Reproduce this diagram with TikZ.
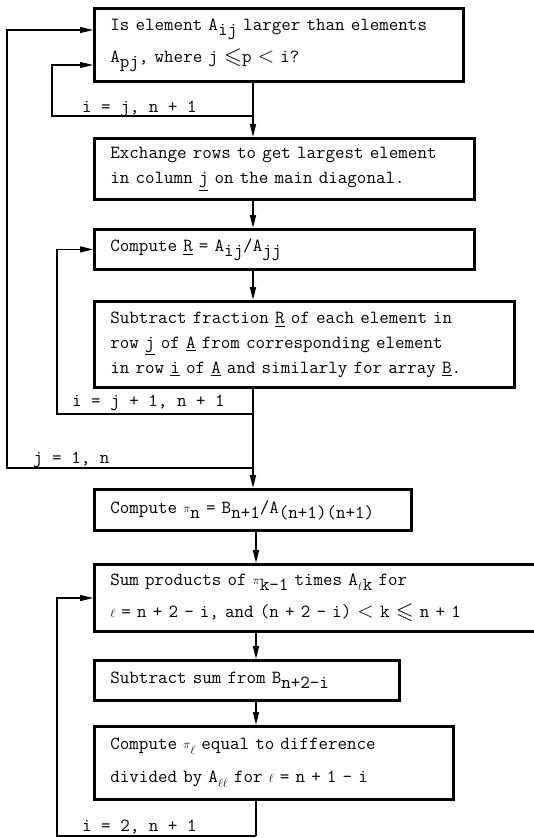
\documentclass[tikz,border=0pt]{standalone}
\usepackage{fontspec}
\usepackage{amssymb}
\usetikzlibrary{arrows.meta}

% lowered index, small pi and ell, underlined array name
\newcommand\lo[1]{\raisebox{-5pt}{#1}}
\newcommand\smpi{\raisebox{1pt}{$\scriptstyle\pi$}}
\newcommand\sml{$\scriptstyle\ell$}
\newcommand\und[1]{\underline{#1}}
\newcommand\lsl{\raisebox{-1pt}{\scalebox{1.25}{$\leqslant$}}}
\newcommand\lt{\scalebox{1.25}{$<$}}
% one unbreakable typewriter line
\newcommand\lineof[1]{\mbox{#1}}
% typewriter face at a given line pitch
\newcommand\tw[1]{\ttfamily\fontsize{18.5}{#1}\selectfont}

\tikzset{
  stepbox/.style={draw, line width=2.8pt, rectangle, anchor=north west,
    inner xsep=16pt, inner ysep=0pt, align=left},
  tip/.style={-{Triangle[length=13pt,width=6pt]}},
  flow/.style={line width=1.6pt, tip},
  conn/.style={line width=1.2pt},
  loopin/.style={line width=1.2pt, tip},
  looplabel/.style={anchor=base west, inner sep=0pt},
}

\begin{document}
\begin{tikzpicture}[x=1pt, y=-1pt, font=\tw{25}]
\useasboundingbox (0,0) rectangle (534,838);

% process boxes
\node[stepbox, minimum width=369pt, minimum height=73pt, text width=337pt,
      font=\tw{32}] (b1) at (93,7)
  {\lineof{Is element A\lo{ij} larger than elements}\\
   \lineof{A\lo{pj}, where j \lsl p \lt{} i?}};
\node[stepbox, minimum width=380pt, minimum height=61pt, text width=348pt] (b2) at (93,137)
  {\lineof{Exchange rows to get largest element}\\
   \lineof{in column \und{j} on the main diagonal.}};
\node[stepbox, minimum width=380pt, minimum height=40pt, text width=348pt] (b3) at (93,228)
  {\lineof{Compute \und{R} = A\lo{ij}/A\lo{jj}}};
\node[stepbox, minimum width=420pt, minimum height=86pt, text width=388pt] (b4) at (93,300)
  {\lineof{Subtract fraction \und{R} of each element in}\\
   \lineof{row \und{j} of \und{A} from corresponding element}\\
   \lineof{in row \und{i} of \und{A} and similarly for array \und{B}.}};
\node[stepbox, minimum width=317pt, minimum height=41pt, text width=285pt] (b5) at (93,488)
  {\lineof{Compute \smpi\lo{n} = B\lo{n+1}/A\lo{(n+1)(n+1)}}};
\node[stepbox, minimum width=444pt, minimum height=67pt, text width=412pt,
      font=\tw{32}] (b6) at (93,563)
  {\lineof{Sum products of \smpi\lo{k-1} times A\lo{\sml k} for}\\
   \lineof{\sml{} = n + 2 - i, and (n + 2 - i) \lt{} k \lsl{} n + 1}};
\node[stepbox, minimum width=305pt, minimum height=40pt, text width=273pt] (b7) at (93,659)
  {\lineof{Subtract sum from B\lo{n+2-i}}};
\node[stepbox, minimum width=359pt, minimum height=73pt, text width=327pt,
      font=\tw{33}] (b8) at (93,725)
  {\lineof{Compute \smpi\lo{\sml} equal to difference}\\
   \lineof{divided by A\lo{\sml\sml} for \sml{} = n + 1 - i}};

% spine positions and loop corners
\coordinate (s1) at (253,0);
\coordinate (s2) at (256,0);
\coordinate (t1) at (253,116);
\coordinate (k1) at (52,116);
\coordinate (e1) at (0,65);
\coordinate (t2) at (253,414);
\coordinate (k2) at (57,414);
\coordinate (t3) at (253,468);
\coordinate (k3) at (7,468);
\coordinate (e3) at (0,30);
\coordinate (t4) at (256,836);
\coordinate (k4) at (57,836);
\coordinate (e4) at (0,598);

% main flow
\draw[flow] (b1.south -| s1) -- (b2.north -| s1);
\draw[flow] (b2.south -| s1) -- (b3.north -| s1);
\draw[flow] (b3.south -| s1) -- (b4.north -| s1);
\draw[flow] (b4.south -| s1) -- (b5.north -| s1);
\draw[flow] (b5.south -| s2) -- (b6.north -| s2);
\draw[flow] (b6.south -| s2) -- (b7.north -| s2);
\draw[flow] (b7.south -| s2) -- (b8.north -| s2);
\draw[conn] (b8.south -| s2) -- (t4);

% loops
\draw[loopin] (t1) -- (k1) |- (b1.west |- e1);
\draw[loopin] (t2) -- (k2) |- (b3.west);
\draw[loopin] (t3) -- (k3) |- (b1.west |- e3);
\draw[loopin] (t4) -- (k4) |- (b6.west |- e4);

% loop labels
\node[looplabel] (l1) at (82,112) {i = j, n + 1};
\node[looplabel] (l2) at (72,406) {i = j + 1, n + 1};
\node[looplabel] (l3) at (33,463) {j = 1, n};
\node[looplabel] (l4) at (82,831) {i = 2, n + 1};
\end{tikzpicture}
\end{document}
